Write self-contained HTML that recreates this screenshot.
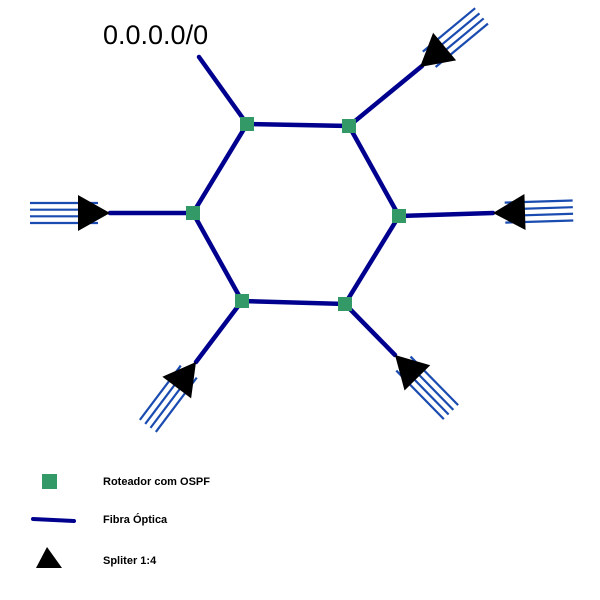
<!DOCTYPE html>
<html><head><style>body{margin:0;background:#fff}svg{display:block}</style></head>
<body>
<svg width="600" height="600" viewBox="0 0 600 600" xmlns="http://www.w3.org/2000/svg">
<defs>
<g id="sp">
<g stroke="#1a4bb0" stroke-width="2.2">
<line x1="12" y1="-10" x2="80" y2="-10"/>
<line x1="12" y1="-3.3" x2="80" y2="-3.3"/>
<line x1="12" y1="3.3" x2="80" y2="3.3"/>
<line x1="12" y1="10" x2="80" y2="10"/>
</g>
<polygon points="0,0 32,-18 32,18" fill="#000"/>
</g>
</defs>
<g stroke="#00008f" stroke-width="4.5" fill="none" stroke-linecap="round">
<polygon points="247,124 349,126 399,216 345,304 242,301 193,213"/>
<line x1="247" y1="124" x2="199" y2="57"/>
<line x1="349" y1="126" x2="422" y2="66"/>
<line x1="193" y1="213" x2="110" y2="213"/>
<line x1="399" y1="216" x2="493" y2="213"/>
<line x1="242" y1="301" x2="196" y2="362"/>
<line x1="345" y1="304" x2="395" y2="355"/>
</g>
<use href="#sp" transform="translate(420,67) rotate(-39.7)"/>
<use href="#sp" transform="translate(110,213) rotate(180)"/>
<use href="#sp" transform="translate(493,213) rotate(-1.8)"/>
<use href="#sp" transform="translate(196,362) rotate(127)"/>
<use href="#sp" transform="translate(395,355) rotate(45.6)"/>
<g fill="#339966">
<rect x="240" y="117" width="14" height="14"/>
<rect x="342" y="119" width="14" height="14"/>
<rect x="186" y="206" width="14" height="14"/>
<rect x="392" y="209" width="14" height="14"/>
<rect x="235" y="294" width="14" height="14"/>
<rect x="338" y="297" width="14" height="14"/>
<rect x="42" y="474" width="15" height="15"/>
</g>
<text x="103" y="44" font-family="Liberation Sans, sans-serif" font-size="27">0.0.0.0/0</text>
<line x1="33" y1="519" x2="74" y2="521" stroke="#00008f" stroke-width="4" stroke-linecap="round"/>
<polygon points="36,568 47,547 62,568" fill="#000"/>
<g font-family="Liberation Sans, sans-serif" font-size="11" font-weight="bold">
<text x="103" y="485">Roteador com OSPF</text>
<text x="103" y="523">Fibra Óptica</text>
<text x="103" y="564">Spliter 1:4</text>
</g>
</svg>
</body></html>
